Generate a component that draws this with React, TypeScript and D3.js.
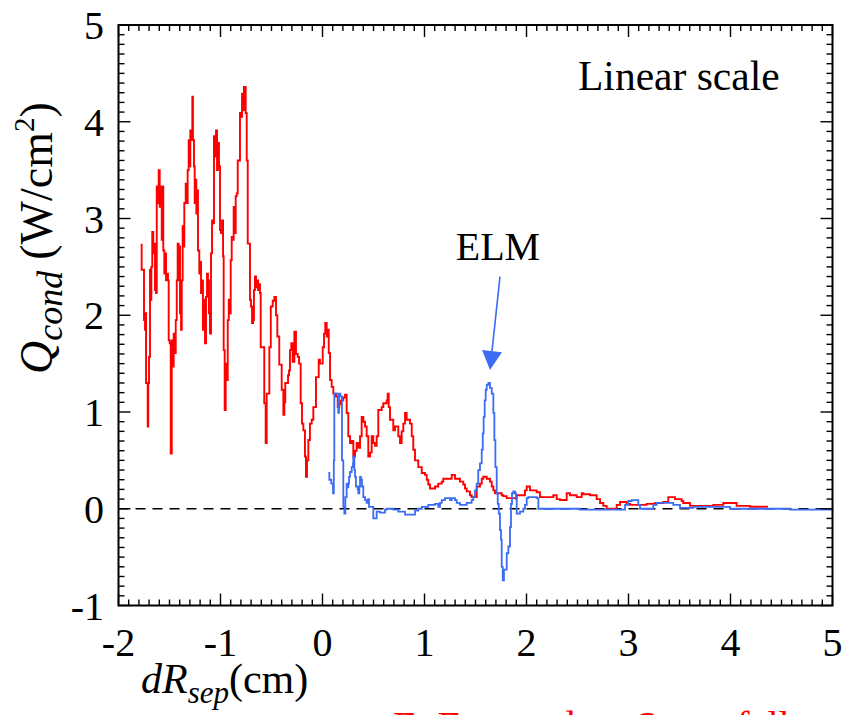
import React from 'react';
import * as d3 from 'd3';

// ---- data ----
const redX = [-1.782,-1.773,-1.750,-1.740,-1.733,-1.730,-1.714,-1.708,-1.701,-1.691,-1.684,-1.678,-1.669,-1.659,-1.649,-1.642,-1.632,-1.625,-1.616,-1.606,-1.596,-1.586,-1.576,-1.567,-1.561,-1.551,-1.541,-1.534,-1.525,-1.515,-1.508,-1.498,-1.488,-1.478,-1.469,-1.459,-1.449,-1.439,-1.429,-1.420,-1.410,-1.404,-1.397,-1.387,-1.380,-1.371,-1.361,-1.355,-1.341,-1.331,-1.322,-1.312,-1.302,-1.296,-1.286,-1.276,-1.270,-1.260,-1.253,-1.247,-1.237,-1.227,-1.221,-1.208,-1.198,-1.191,-1.181,-1.172,-1.162,-1.152,-1.142,-1.132,-1.123,-1.113,-1.103,-1.093,-1.083,-1.074,-1.064,-1.054,-1.044,-1.034,-1.025,-1.015,-1.005,-0.995,-0.985,-0.975,-0.969,-0.959,-0.949,-0.939,-0.929,-0.919,-0.910,-0.900,-0.890,-0.880,-0.871,-0.861,-0.851,-0.841,-0.831,-0.821,-0.809,-0.799,-0.789,-0.779,-0.770,-0.753,-0.743,-0.733,-0.711,-0.701,-0.691,-0.681,-0.672,-0.662,-0.652,-0.642,-0.632,-0.623,-0.613,-0.606,-0.571,-0.557,-0.547,-0.521,-0.507,-0.488,-0.472,-0.456,-0.443,-0.424,-0.400,-0.384,-0.374,-0.365,-0.338,-0.328,-0.319,-0.306,-0.292,-0.276,-0.260,-0.243,-0.230,-0.214,-0.201,-0.188,-0.172,-0.162,-0.152,-0.139,-0.123,-0.106,-0.090,-0.064,-0.037,-0.025,0.002,0.015,0.027,0.041,0.051,0.061,0.074,0.090,0.106,0.132,0.149,0.165,0.181,0.204,0.221,0.237,0.253,0.270,0.286,0.302,0.319,0.335,0.351,0.368,0.384,0.400,0.417,0.433,0.449,0.466,0.482,0.498,0.515,0.531,0.547,0.580,0.596,0.629,0.639,0.649,0.662,0.694,0.711,0.743,0.760,0.776,0.792,0.809,0.825,0.858,0.875,0.890,0.907,0.939,0.973,1.005,1.022,1.037,1.054,1.103,1.135,1.169,1.184,1.267,1.299,1.348,1.380,1.397,1.414,1.446,1.462,1.512,1.544,1.561,1.576,1.610,1.642,1.659,1.675,1.691,1.757,1.773,1.806,1.904,1.985,2.002,2.034,2.100,2.132,2.263,2.296,2.328,2.394,2.426,2.492,2.541,2.557,2.623,2.688,2.721,2.753,2.786,2.884,2.917,2.982,3.015,3.178,3.260,3.341,3.390,3.456,3.521,3.537,3.603,3.831,3.929,4.060,4.191,4.355,4.367];
const redY = [2.73,2.47,1.95,1.85,2.02,1.30,0.85,1.30,1.57,2.47,2.16,2.50,2.86,2.64,2.74,2.26,2.23,3.33,3.16,3.50,3.12,3.33,2.78,3.33,2.67,2.43,2.64,2.36,2.43,2.36,1.74,1.71,0.57,1.74,1.47,1.81,1.61,1.95,2.36,2.74,2.36,2.71,2.02,1.85,2.36,2.92,2.71,3.16,3.36,3.16,3.50,3.81,3.54,3.91,3.81,4.26,3.81,3.54,3.16,3.40,3.05,3.29,2.67,2.43,2.55,2.23,2.36,1.85,2.16,1.71,2.19,2.43,2.36,2.02,1.81,2.64,2.98,2.95,3.85,3.64,3.91,3.50,3.78,3.54,2.88,2.85,2.98,2.61,1.64,1.02,1.50,1.33,1.95,2.16,2.02,2.57,2.81,2.78,3.12,2.85,3.23,3.26,3.60,3.60,4.09,4.05,4.29,4.12,4.36,4.09,3.60,2.74,2.16,2.09,1.92,1.95,2.26,2.40,2.29,2.36,2.26,2.32,2.23,1.67,1.09,0.68,1.19,1.67,2.09,2.15,2.19,2.00,1.78,1.49,1.23,0.97,1.10,1.30,1.38,1.43,1.64,1.71,1.52,1.83,1.60,1.57,1.50,1.09,0.88,0.81,0.54,0.33,0.50,0.71,0.88,0.92,1.05,1.36,1.54,1.50,1.67,1.81,1.92,1.78,1.85,1.61,1.33,1.26,1.19,1.16,1.05,1.08,1.12,1.15,1.18,0.99,0.75,0.68,0.70,0.54,0.60,0.68,0.63,0.75,0.95,0.90,0.85,0.75,0.54,0.58,0.75,0.68,0.65,0.75,1.02,1.05,1.09,1.12,1.19,1.05,0.92,0.81,0.85,0.75,0.68,0.80,0.88,0.99,0.92,0.88,0.75,0.61,0.50,0.43,0.37,0.35,0.30,0.25,0.21,0.23,0.26,0.28,0.31,0.35,0.31,0.28,0.25,0.21,0.18,0.14,0.12,0.23,0.26,0.31,0.33,0.31,0.28,0.23,0.19,0.16,0.14,0.13,0.11,0.14,0.19,0.23,0.19,0.17,0.12,0.14,0.10,0.09,0.16,0.14,0.12,0.16,0.15,0.14,0.10,0.06,0.03,0.00,0.04,0.07,0.05,0.04,0.05,0.06,0.07,0.12,0.10,0.08,0.06,0.03,0.04,0.06,0.03,0.02,0.02,0.02];

const blueX = [0.057,0.067,0.086,0.103,0.111,0.116,0.155,0.162,0.175,0.191,0.204,0.214,0.224,0.237,0.247,0.253,0.260,0.270,0.286,0.299,0.302,0.312,0.319,0.328,0.345,0.351,0.361,0.368,0.377,0.387,0.400,0.417,0.433,0.449,0.456,0.498,0.531,0.564,0.613,0.629,0.694,0.743,0.809,0.907,0.939,0.973,1.037,1.103,1.135,1.152,1.169,1.201,1.250,1.267,1.299,1.316,1.348,1.414,1.462,1.478,1.495,1.512,1.527,1.544,1.561,1.571,1.580,1.590,1.600,1.610,1.626,1.642,1.659,1.675,1.685,1.695,1.708,1.718,1.728,1.740,1.750,1.757,1.767,1.779,1.806,1.822,1.838,1.848,1.858,1.871,1.887,1.897,1.904,1.936,1.969,1.985,2.002,2.018,2.100,2.116,2.525,2.966,2.998,3.031,3.064,3.096,3.113,3.243,3.276,3.341,3.439,3.505,3.635,3.995,4.583,5.0];
const blueY = [0.37,0.30,0.26,0.16,0.50,1.19,0.99,1.19,1.16,0.50,0.02,-0.05,0.12,0.26,0.22,0.26,0.33,0.38,0.43,0.47,0.54,0.40,0.33,0.23,0.20,0.16,0.23,0.33,0.30,0.23,0.12,0.09,0.06,0.10,0.02,-0.10,-0.03,-0.04,-0.01,0.00,-0.01,-0.03,-0.06,-0.02,0.00,0.02,0.04,0.05,0.02,0.06,0.09,0.11,0.09,0.11,0.09,0.06,0.04,0.06,0.09,0.12,0.19,0.26,0.40,0.47,0.61,0.78,0.95,1.12,1.23,1.28,1.30,1.25,1.19,0.99,0.71,0.43,0.16,0.05,-0.05,-0.22,-0.32,-0.60,-0.74,-0.63,-0.46,-0.39,-0.19,0.05,0.16,0.18,0.16,0.10,-0.05,-0.03,0.00,0.04,0.11,0.12,0.11,0.00,-0.01,0.04,0.08,0.09,0.09,0.04,0.00,0.04,0.06,0.06,0.04,0.01,0.02,0.00,-0.01,0.00];

const xTickValues = [-2, -1, 0, 1, 2, 3, 4, 5];
const yTickValues = [-1, 0, 1, 2, 3, 4, 5];
const xDomain = [-2, 5];
const yDomain = [-1, 5];
const referenceLevel = [0];

// annotations, in data units
const elmTip = [1.642, 1.434];
const elmTail = [1.74, 2.40];
const elmLabelPos = [1.72, 2.57];
const scaleLabelPos = [2.505, 4.33];

const FONT = "Liberation Serif";
const RED = '#ff0000';
const BLUE = '#3b6cf4';

export default function App() {
  const W = 848, H = 715;
  const L = 118.5, R = 832.5, T = 25, B = 605.5;
  const x = d3.scaleLinear().domain(xDomain).range([L, R]);
  const y = d3.scaleLinear().domain(yDomain).range([B, T]);

  const mk = (xs: number[], ys: number[]) =>
    d3
      .line<number>()
      .x((d, i) => x(xs[i]))
      .y((d, i) => y(ys[i]))
      .curve(d3.curveStepAfter)(xs);

  const xMinor = d3.range(-20, 51).map((k) => k / 10).filter((v) => !xTickValues.includes(v));
  const yMinor = d3.range(-10, 51).map((k) => k / 10).filter((v) => !yTickValues.includes(v));
  const MAJ = 12, MIN = 6;

  // arrow
  const tipX = x(elmTip[0]), tipY = y(elmTip[1]);
  const tailX = x(elmTail[0]), tailY = y(elmTail[1]);
  const ang = Math.atan2(tipY - tailY, tipX - tailX);
  const headLen = 19, headHalf = 10;
  const bx = tipX - headLen * Math.cos(ang), by = tipY - headLen * Math.sin(ang);
  const px = -Math.sin(ang), py = Math.cos(ang);
  const head = `${tipX},${tipY} ${bx + headHalf * px},${by + headHalf * py} ${bx - headHalf * px},${by - headHalf * py}`;

  return (
    <svg
      width={W}
      height={H}
      viewBox={`0 0 ${W} ${H}`}
      style={{ position: 'absolute', left: 0, top: 0, display: 'block', background: '#fff', fontFamily: "'Liberation Serif', 'DejaVu Serif', serif" }}
    >
      <rect x={0} y={0} width={W} height={H} fill="#fff" />
      {referenceLevel.map((v) => (
        <line key={v} x1={L} x2={R} y1={y(v)} y2={y(v)} stroke="#000" strokeWidth={1.6} strokeDasharray="10,7" />
      ))}
      <path d={mk(redX, redY) || ''} fill="none" stroke={RED} strokeWidth={1.9} />
      <path d={mk(blueX, blueY) || ''} fill="none" stroke={BLUE} strokeWidth={1.8} />

      <rect x={L} y={T} width={R - L} height={B - T} fill="none" stroke="#000" strokeWidth={2} />

      <g stroke="#000" strokeWidth={1.4}>
        {xTickValues.map((v) => (
          <g key={'xM' + v}>
            <line x1={x(v)} x2={x(v)} y1={B} y2={B - MAJ} />
            <line x1={x(v)} x2={x(v)} y1={T} y2={T + MAJ} />
          </g>
        ))}
        {xMinor.map((v) => (
          <g key={'xm' + v}>
            <line x1={x(v)} x2={x(v)} y1={B} y2={B - MIN} />
            <line x1={x(v)} x2={x(v)} y1={T} y2={T + MIN} />
          </g>
        ))}
        {yTickValues.map((v) => (
          <g key={'yM' + v}>
            <line x1={L} x2={L + MAJ} y1={y(v)} y2={y(v)} />
            <line x1={R} x2={R - MAJ} y1={y(v)} y2={y(v)} />
          </g>
        ))}
        {yMinor.map((v) => (
          <g key={'ym' + v}>
            <line x1={L} x2={L + MIN} y1={y(v)} y2={y(v)} />
            <line x1={R} x2={R - MIN} y1={y(v)} y2={y(v)} />
          </g>
        ))}
      </g>

      <g fontSize={40} fill="#000" fontFamily={FONT}>
        {xTickValues.map((v) => (
          <text key={'xl' + v} x={x(v)} y={656} textAnchor="middle">
            {String(v)}
          </text>
        ))}
        {yTickValues.map((v) => (
          <text key={'yl' + v} x={104} y={y(v)} dy="0.35em" textAnchor="end">
            {String(v)}
          </text>
        ))}
      </g>

      <text x={141} y={693} fontSize={42} fill="#000" fontFamily={FONT}>
        <tspan fontStyle="italic">dR</tspan>
        <tspan fontStyle="italic" fontSize={31} dy={10}>sep</tspan>
        <tspan dy={-10}>(cm)</tspan>
      </text>
      <text transform="translate(52,374) rotate(-90)" fontSize={46} fill="#000" fontFamily={FONT}>
        <tspan fontStyle="italic">Q</tspan>
        <tspan fontStyle="italic" fontSize={36} dy={10}>cond</tspan>
        <tspan dy={-10} dx={11}>(W/cm</tspan>
        <tspan fontSize={29} dy={-18}>2</tspan>
        <tspan dy={18}>)</tspan>
      </text>

      <text x={x(scaleLabelPos[0])} y={y(scaleLabelPos[1])} fontSize={41.5} fill="#000" fontFamily={FONT}>Linear scale</text>
      <text x={x(elmLabelPos[0])} y={y(elmLabelPos[1])} fontSize={40} fill="#000" textAnchor="middle" fontFamily={FONT}>ELM</text>
      <line x1={tailX} y1={tailY} x2={bx} y2={by} stroke={BLUE} strokeWidth={1.6} />
      <polygon points={head} fill={BLUE} />

      <text x={393} y={739} fontSize={40} fill={RED} fontFamily={FONT}>E. Exposed on Some fall</text>
    </svg>
  );
}
